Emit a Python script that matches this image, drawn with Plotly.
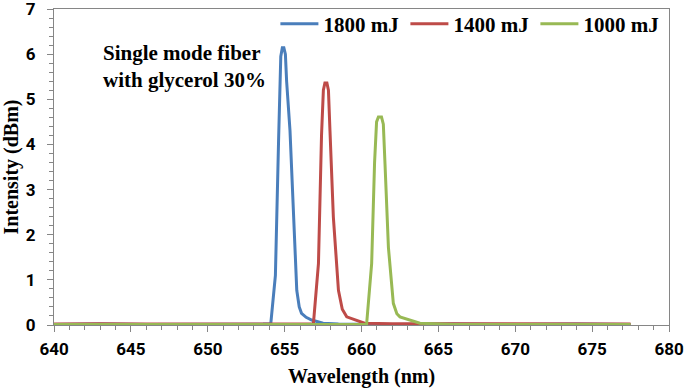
import plotly.graph_objects as go

# ---- data ----
wl_1800 = [640, 643, 646, 649, 652, 653.6, 654.1, 654.4, 654.6, 654.75, 654.85, 654.95, 655.05,
           655.13, 655.35, 655.57, 655.79, 655.95, 656.1, 656.4, 656.76, 657.5, 658.5, 662, 666,
           670, 674, 677.5]
int_1800 = [0.01, 0.02, 0.01, 0.01, 0.02, 0.02, 0.03, 1.1, 4.0, 5.95, 6.14, 6.14, 6.0,
            5.4, 4.3, 2.39, 0.77, 0.4, 0.26, 0.17, 0.11, 0.04, 0.02, 0.01, 0.02,
            0.01, 0.02, 0.01]

wl_1400 = [640, 643, 646, 649, 652, 655, 656.87, 657.2, 657.4, 657.52, 657.62, 657.75, 657.85,
           657.95, 658.17, 658.5, 658.75, 659.04, 659.58, 660.2, 662, 664, 666, 670, 674, 677.5]
int_1400 = [0.02, 0.03, 0.02, 0.02, 0.03, 0.02, 0.02, 1.36, 4.2, 5.2, 5.36, 5.36, 5.2,
            4.3, 2.39, 0.77, 0.35, 0.18, 0.11, 0.04, 0.03, 0.03, 0.02, 0.02, 0.03, 0.02]

wl_1000 = [640, 643, 646, 649, 652, 655, 658, 660.33, 660.66, 660.85, 660.98, 661.1, 661.3,
           661.42, 661.53, 661.75, 662.07, 662.3, 662.5, 663.15, 663.8, 666, 670, 674, 677.5]
int_1000 = [0.01, 0.01, 0.01, 0.01, 0.01, 0.01, 0.01, 0.01, 1.36, 3.6, 4.5, 4.61, 4.61,
            4.45, 3.56, 1.72, 0.48, 0.25, 0.18, 0.11, 0.04, 0.01, 0.01, 0.01, 0.01]

series_names = ["1800 mJ", "1400 mJ", "1000 mJ"]
series_colors = ["#4A7EBB", "#BE4B48", "#98B954"]
x_ticks = [640, 645, 650, 655, 660, 665, 670, 675, 680]
y_ticks = [0, 1, 2, 3, 4, 5, 6, 7]

serif = "Liberation Serif"
sans = "Roboto"
axis_gray = "#868686"

fig = go.Figure()
for wl, iv, name, col in zip([wl_1800, wl_1400, wl_1000], [int_1800, int_1400, int_1000],
                             series_names, series_colors):
    fig.add_trace(go.Scatter(x=wl, y=iv, mode="lines", name=name,
                             line=dict(color=col, width=3), cliponaxis=False))

axis_common = dict(showgrid=False, zeroline=False, showline=True, linecolor=axis_gray,
                   linewidth=1, mirror=True, ticks="outside", ticklen=6, tickcolor=axis_gray,
                   ticklabeloverflow="allow",
                   tickfont=dict(family=sans, size=17, color="#000000", weight="bold"))

fig.update_xaxes(range=[640, 680], tickvals=x_ticks, ticklabelstandoff=3,
                 minor=dict(ticks="outside", dtick=1, ticklen=4, tickcolor=axis_gray),
                 title=dict(text="Wavelength (nm)", standoff=12,
                            font=dict(family=serif, size=20, color="#000000", weight="bold")),
                 **axis_common)
fig.update_yaxes(range=[0, 7], tickvals=y_ticks, ticklabelstandoff=8,
                 minor=dict(ticks="outside", dtick=0.2, ticklen=4, tickcolor=axis_gray),
                 title=dict(text="Intensity (dBm)", standoff=10,
                            font=dict(family=serif, size=20, color="#000000", weight="bold")),
                 **axis_common)

fig.add_annotation(text="Single mode fiber<br>with glycerol 30%", xref="paper", yref="paper",
                   x=(101 - 54) / 615, y=(325 - 39) / 316, xanchor="left", yanchor="top",
                   align="left", showarrow=False,
                   font=dict(family=serif, size=21, color="#000000", weight="bold"))

fig.update_layout(
    width=685, height=388,
    margin=dict(l=54, r=16, t=9, b=63, autoexpand=False),
    paper_bgcolor="white", plot_bgcolor="white",
    showlegend=True,
    legend=dict(orientation="h", x=0.36, y=(325 - 24) / 316, xanchor="left", yanchor="middle",
                bgcolor="rgba(0,0,0,0)", font=dict(family=serif, size=21, color="#000000",
                                                   weight="bold"),
                entrywidth=77, entrywidthmode="pixels", itemwidth=38),
)

fig.write_html("out.html", config={"displayModeBar": False},
               post_script="document.body.style.margin='0';document.body.style.overflow='hidden';")
